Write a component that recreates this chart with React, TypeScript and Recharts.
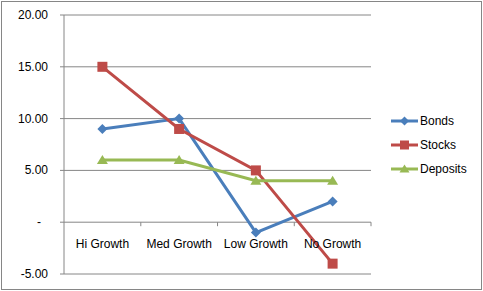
import { LineChart, Line, XAxis, YAxis, CartesianGrid, Legend, ReferenceDot } from "recharts";

const FONT = '"Liberation Sans", Arial, sans-serif';
const GRID = "#868686";

const categories = ["Hi Growth", "Med Growth", "Low Growth", "No Growth"];
const bonds = [9, 10, -1, 2];
const stocks = [15, 9, 5, -4];
const deposits = [6, 6, 4, 4];
const yTicks = [-5, 0, 5, 10, 15, 20];

const SERIES = [
  { key: "bonds", name: "Bonds", color: "#4A7EBB", marker: "diamond" },
  { key: "stocks", name: "Stocks", color: "#BE4B48", marker: "square" },
  { key: "deposits", name: "Deposits", color: "#98B954", marker: "triangle" },
];

const data = categories.map((cat, i) => ({
  cat,
  bonds: bonds[i],
  stocks: stocks[i],
  deposits: deposits[i],
}));

// half of one category slot, used for the small ticks on the zero line
const HALF_BAND = 38.4;

function Marker({ kind, cx, cy, color, size = 5 }: { kind: string; cx: number; cy: number; color: string; size?: number }) {
  if (kind === "diamond") {
    return (
      <polygon
        points={`${cx},${cy - size} ${cx + size},${cy} ${cx},${cy + size} ${cx - size},${cy}`}
        fill={color}
      />
    );
  }
  if (kind === "square") {
    return <rect x={cx - size} y={cy - size} width={size * 2} height={size * 2} fill={color} />;
  }
  return (
    <polygon
      points={`${cx},${cy - size} ${cx + size + 0.5},${cy + size - 1} ${cx - size - 0.5},${cy + size - 1}`}
      fill={color}
    />
  );
}

function YTick({ x, y, payload }: any) {
  const v = payload.value as number;
  return (
    <text x={v === 0 ? x - 7 : x} y={y} dy={4} textAnchor="end" fontSize={12} fill="#000">
      {v === 0 ? "-" : v.toFixed(2)}
    </text>
  );
}

function LegendBox() {
  return (
    <div style={{ fontFamily: FONT, fontSize: 12, color: "#000" }}>
      {SERIES.map((s) => (
        <div key={s.key} style={{ display: "flex", alignItems: "center", height: 24 }}>
          <svg width={30} height={12}>
            <line x1={1} y1={6} x2={28} y2={6} stroke={s.color} strokeWidth={3} />
            <Marker kind={s.marker} cx={14.5} cy={6} color={s.color} size={4.5} />
          </svg>
          <span>{s.name}</span>
        </div>
      ))}
    </div>
  );
}

export default function App() {
  return (
    <div style={{ position: "absolute", left: 0, top: 0, width: 483, height: 291, background: "#fff", fontFamily: FONT }}>
      <div
        style={{
          position: "absolute",
          left: 1,
          top: 1,
          width: 481,
          height: 289,
          border: `1px solid ${GRID}`,
          boxSizing: "border-box",
        }}
      />
      <LineChart width={483} height={291} data={data} margin={{ top: 15, right: 112, bottom: 17, left: 0 }}>
        <CartesianGrid vertical={false} stroke={GRID} />
        <XAxis dataKey="cat" hide padding={{ left: HALF_BAND, right: HALF_BAND }} />
        <YAxis
          domain={[-5, 20]}
          ticks={yTicks}
          width={64}
          axisLine={{ stroke: GRID }}
          tickLine={{ stroke: GRID }}
          tickSize={4}
          tickMargin={12}
          tick={<YTick />}
        />
        <Legend
          layout="vertical"
          align="center"
          verticalAlign="middle"
          wrapperStyle={{ left: 390, top: 109, width: 90 }}
          content={<LegendBox />}
        />
        {categories.map((c) => (
          <ReferenceDot
            key={c}
            x={c}
            y={0}
            r={0}
            shape={(p: any) => (
              <line x1={p.cx + HALF_BAND} y1={p.cy} x2={p.cx + HALF_BAND} y2={p.cy + 4} stroke={GRID} />
            )}
            label={{ value: c, position: "bottom", offset: 17, fill: "#000", fontSize: 12 }}
          />
        ))}
        {SERIES.map((s) => (
          <Line
            key={s.key}
            type="linear"
            dataKey={s.key}
            name={s.name}
            stroke={s.color}
            strokeWidth={3}
            isAnimationActive={false}
            activeDot={false}
            dot={(p: any) => <Marker key={`${s.key}-${p.index}`} kind={s.marker} cx={p.cx} cy={p.cy} color={s.color} />}
          />
        ))}
      </LineChart>
    </div>
  );
}
